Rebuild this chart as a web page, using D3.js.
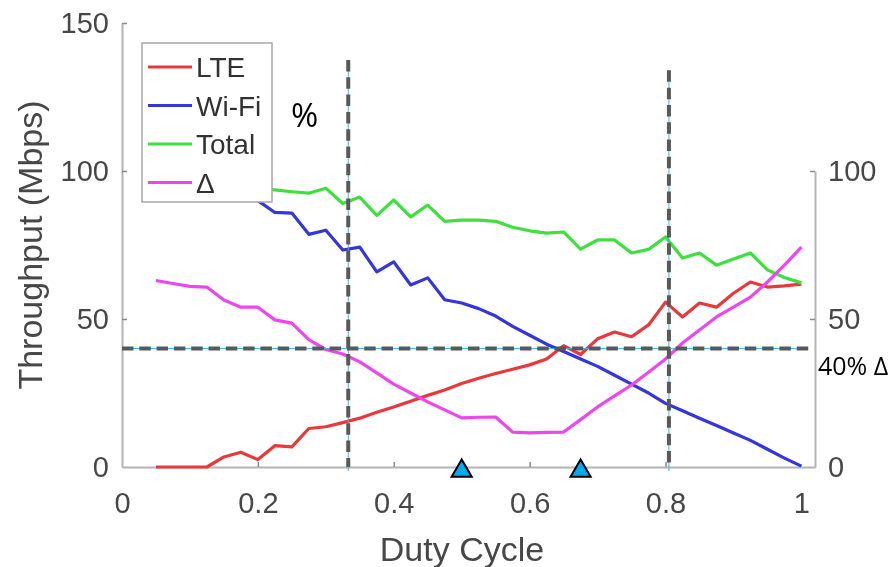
<!DOCTYPE html>
<html>
<head>
<meta charset="utf-8">
<script src="https://cdn.jsdelivr.net/npm/d3@7"></script>
<style>
  html, body { margin: 0; padding: 0; background: #fff; }
  svg { display: block; }
</style>
</head>
<body>
<svg id="chart" width="894" height="567"></svg>
<script>
// Duty cycle samples (0.05 .. 1.0, step 0.025)
const dutyCycle = [0.05,0.075,0.1,0.125,0.15,0.175,0.2,0.225,0.25,0.275,0.3,0.325,0.35,0.375,0.4,0.425,0.45,0.475,0.5,0.525,0.55,0.575,0.6,0.625,0.65,0.675,0.7,0.725,0.75,0.775,0.8,0.825,0.85,0.875,0.9,0.925,0.95,0.975,1.0];

// Throughput in Mbps
const lteValues   = [0,0,0,0,3.4,5,2.5,7.2,6.8,13,13.6,15,16.5,18.5,20.3,22.2,24.2,26,28.2,30,31.6,33,34.5,36.5,41,38,43.3,45.6,44,48,55.7,50.7,55.4,54,58.7,62.5,60.8,61.2,61.8];
const wifiValues  = [97,96,96,95,92,91,90,86,85.8,78.6,80,73.3,74.3,65.9,69.3,61.5,63.9,56.5,55.4,53.5,51,47.5,44.5,41.5,39,36.5,34,31,28,25,21.5,19,16.5,14,11.5,9,6,3,0.3];
const totalValues = [97,96.5,96,95.5,95,95,94,93.6,93,92.5,94.2,89,91.2,85,90.2,84.5,88.5,83,83.4,83.4,83,81,79.8,79,79.4,73.6,76.7,76.7,72.3,73.5,77.7,70.6,72.3,68.2,70.3,72.3,66.6,64,62.2];
// Delta in percent (right axis)
const deltaValues = [63,62,61,60.8,56.4,54,54,49.7,48.6,43,39.7,38.2,35.5,31.8,28,25,22,19.3,16.6,16.8,16.9,11.8,11.5,11.7,11.8,16,20.3,24,27.7,32,36.5,41.9,46.3,50.7,54,57.4,62.5,68.2,74.3];

const seriesNames  = ["LTE", "Wi-Fi", "Total", "\u0394"];
const seriesColors = ["#e8393a", "#3434dc", "#3ce03c", "#ee45ee"];

// Axis ticks
const xTicks = [0, 0.2, 0.4, 0.6, 0.8, 1];
const yLeftTicks = [0, 50, 100, 150];
const yRightTicks = [0, 50, 100];

// Annotations
const deltaThreshold = 40;          // percent
const dutyMarks = [0.333, 0.805];   // vertical guides
const dutyMarkTops = [137.5, 134];  // Mbps, top end of each guide
const triangleMarks = [0.5, 0.675];

const svg = d3.select("#chart");

const x = d3.scaleLinear().domain([0, 1.02]).range([122, 815]);
const y = d3.scaleLinear().domain([0, 150]).range([467, 23]);
const yR = d3.scaleLinear().domain([0, 100]).range([y(0), y(100)]);

const soft = svg.append("defs").append("filter").attr("id", "soft");
soft.append("feGaussianBlur").attr("stdDeviation", 0.6);

const base = svg.append("g").attr("filter", "url(#soft)");

const axisColor = "#b4b4b4";
const textColor = "#474747";
const tickFont = "Liberation Sans, Arial, Helvetica, sans-serif";

function styleAxis(g) {
  g.select(".domain").attr("stroke", axisColor).attr("stroke-width", 2);
  g.selectAll(".tick line").attr("stroke", "#8a8a8a").attr("stroke-width", 1.5);
  g.selectAll(".tick text").attr("fill", textColor).attr("font-size", 29)
    .attr("font-family", tickFont);
}

// bottom axis
base.append("g").attr("transform", `translate(0,${y(0)})`)
  .call(d3.axisBottom(x).tickValues(xTicks).tickFormat(d => String(d))
    .tickSizeInner(-5).tickSizeOuter(0).tickPadding(25))
  .call(styleAxis)
  .call(g => g.selectAll(".tick").filter(d => d === 0 || d === 1).select("line").remove());

// left axis
base.append("g").attr("transform", `translate(${x(0)},0)`)
  .call(d3.axisLeft(y).tickValues(yLeftTicks).tickSizeInner(-5).tickSizeOuter(0).tickPadding(13))
  .call(styleAxis)
  .call(g => g.selectAll(".tick").filter(d => d === 0).select("line").remove());

// right axis
base.append("g").attr("transform", `translate(${x(1.02)},0)`)
  .call(d3.axisRight(yR).tickValues(yRightTicks).tickSizeInner(-5).tickSizeOuter(0).tickPadding(13))
  .call(styleAxis)
  .call(g => g.selectAll(".tick").filter(d => d === 0).select("line").remove());

// axis titles
base.append("text")
  .attr("x", 462).attr("y", 561)
  .attr("text-anchor", "middle")
  .attr("font-family", tickFont).attr("font-size", 34).attr("fill", textColor)
  .text("Duty Cycle");

base.append("text")
  .attr("transform", `translate(42,245) rotate(-90)`)
  .attr("text-anchor", "middle")
  .attr("font-family", tickFont).attr("font-size", 34).attr("fill", textColor)
  .text("Throughput (Mbps)");

// data lines
const leftLine = d3.line().x((d, i) => x(dutyCycle[i])).y(d => y(d));
const rightLine = d3.line().x((d, i) => x(dutyCycle[i])).y(d => yR(d));
const seriesData = [lteValues, wifiValues, totalValues, deltaValues];

seriesData.forEach((vals, k) => {
  base.append("path")
    .datum(vals)
    .attr("fill", "none")
    .attr("stroke", seriesColors[k])
    .attr("stroke-width", 3.2)
    .attr("stroke-linejoin", "round")
    .attr("d", k === 3 ? rightLine : leftLine);
});

// legend
const legend = base.append("g");
legend.append("rect")
  .attr("x", 142).attr("y", 43).attr("width", 130).attr("height", 159)
  .attr("fill", "#fff").attr("stroke", "#a8a8a8").attr("stroke-width", 1.5);
seriesNames.forEach((name, i) => {
  const cy = 67 + i * 38.5;
  legend.append("line")
    .attr("x1", 148).attr("x2", 192).attr("y1", cy).attr("y2", cy)
    .attr("stroke", seriesColors[i]).attr("stroke-width", 3.2);
  legend.append("text")
    .attr("x", 196).attr("y", cy + 10)
    .attr("font-family", tickFont).attr("font-size", 28).attr("fill", "#333")
    .text(name);
});

// annotation guides
const guideColor = "#595959";
const guideBlue = "#3db3f2";
const dash = "11.5,5.8";

dutyMarks.forEach((d, i) => {
  svg.append("line")
    .attr("x1", x(d)).attr("x2", x(d)).attr("y1", y(dutyMarkTops[i])).attr("y2", y(0) + 4)
    .attr("stroke", guideBlue).attr("stroke-width", 1);
  svg.append("line")
    .attr("x1", x(d)).attr("x2", x(d)).attr("y1", y(dutyMarkTops[i])).attr("y2", y(0))
    .attr("stroke", guideColor).attr("stroke-width", 4).attr("stroke-dasharray", dash);
});

svg.append("line")
  .attr("x1", x(0)).attr("x2", x(1.01)).attr("y1", yR(deltaThreshold)).attr("y2", yR(deltaThreshold))
  .attr("stroke", guideBlue).attr("stroke-width", 1);
svg.append("line")
  .attr("x1", x(0)).attr("x2", x(1.01)).attr("y1", yR(deltaThreshold)).attr("y2", yR(deltaThreshold))
  .attr("stroke", guideColor).attr("stroke-width", 4).attr("stroke-dasharray", dash);

svg.append("text")
  .attr("x", 818).attr("y", yR(deltaThreshold) + 26)
  .attr("font-family", "Open Sans, sans-serif").attr("font-size", 25).attr("fill", "#000")
  .text(`${deltaThreshold}% \u0394`);

svg.append("text")
  .attr("x", 291).attr("y", 127)
  .attr("font-family", "Open Sans, sans-serif").attr("font-size", 33).attr("fill", "#000")
  .text("%");

// triangle markers on the duty-cycle axis
const tri = d3.symbol().type(d3.symbolTriangle).size(175);
triangleMarks.forEach(d => {
  svg.append("path")
    .attr("d", tri())
    .attr("transform", `translate(${x(d)},${y(0) + 4})`)
    .attr("fill", "#00aaee").attr("stroke", "#000").attr("stroke-width", 2)
    .attr("stroke-linejoin", "miter");
});
</script>
</body>
</html>
